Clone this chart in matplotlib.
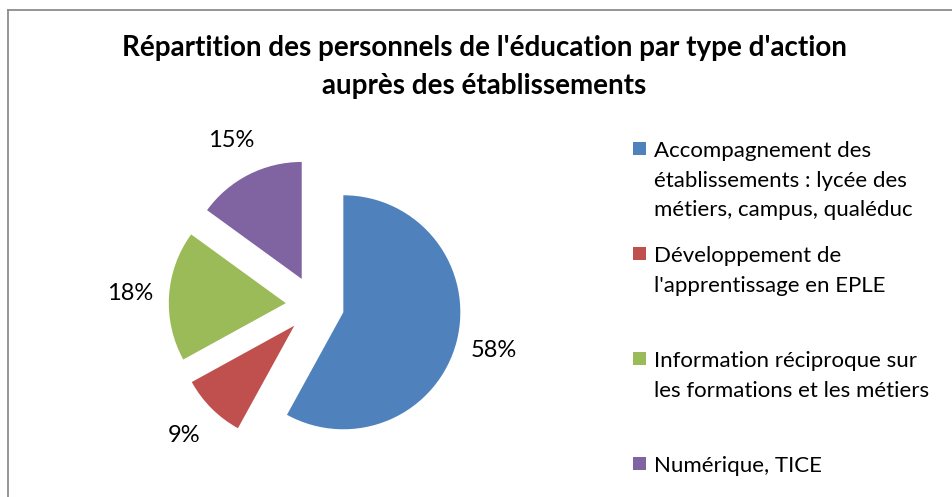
import matplotlib
matplotlib.use("Agg")
import matplotlib.pyplot as plt
from matplotlib.patches import Rectangle
from matplotlib.lines import Line2D

categories = [
    "Accompagnement des\nétablissements : lycée des\nmétiers, campus, qualéduc",
    "Développement de\nl'apprentissage en EPLE",
    "Information réciproque sur\nles formations et les métiers",
    "Numérique, TICE",
]
values = [58, 9, 18, 15]
colors = ["#4F81BD", "#C0504D", "#9BBB59", "#8064A2"]
title = "Répartition des personnels de l'éducation par type d'action\nauprès des établissements"

W, H = 952, 497
fig = plt.figure(figsize=(W / 100, H / 100), dpi=100)
fig.patch.set_facecolor("white")

FONT = "Lato"

# pie axes covering full figure, data units scaled so radius = 117 px
R = 117.0
cx, cy = 315.0, H - 305.0
ax = fig.add_axes([0, 0, 1, 1])
ax.pie(values, colors=colors, startangle=90, counterclock=False,
       explode=[0.25] * len(values), radius=1.0,
       autopct=lambda p: f"{p:.0f}%", pctdistance=1.33,
       textprops=dict(fontsize=17, family=FONT, color="black"),
       wedgeprops=dict(linewidth=0))
ax.set_aspect("auto")
ax.set_xlim(-cx / R, (W - cx) / R)
ax.set_ylim(-cy / R, (H - cy) / R)
ax.axis("off")

# title
fig.text(484 / W, 1 - 67 / H, title, ha="center", va="center",
         fontsize=20, fontweight="bold", family=FONT, linespacing=1.6)

# legend
y0 = 148.5
for i, (lab, c) in enumerate(zip(categories, colors)):
    y = y0 + i * 105
    fig.patches.append(Rectangle((633 / W, 1 - (y + 6.5) / H), 13 / W, 13 / H,
                                 transform=fig.transFigure, facecolor=c,
                                 edgecolor="none"))
    fig.text(654 / W, 1 - (y - 7.5) / H, lab, ha="left", va="top",
             fontsize=16, family=FONT, linespacing=1.6)

# outer frame (partially visible)
fig.add_artist(Line2D([8 / W, 1], [1 - 10 / H, 1 - 10 / H], transform=fig.transFigure,
                      color="#8c8c8c", linewidth=1.3))
fig.add_artist(Line2D([8 / W, 8 / W], [0, 1 - 10 / H], transform=fig.transFigure,
                      color="#8c8c8c", linewidth=1.3))

fig.savefig("out.png", dpi=100)
